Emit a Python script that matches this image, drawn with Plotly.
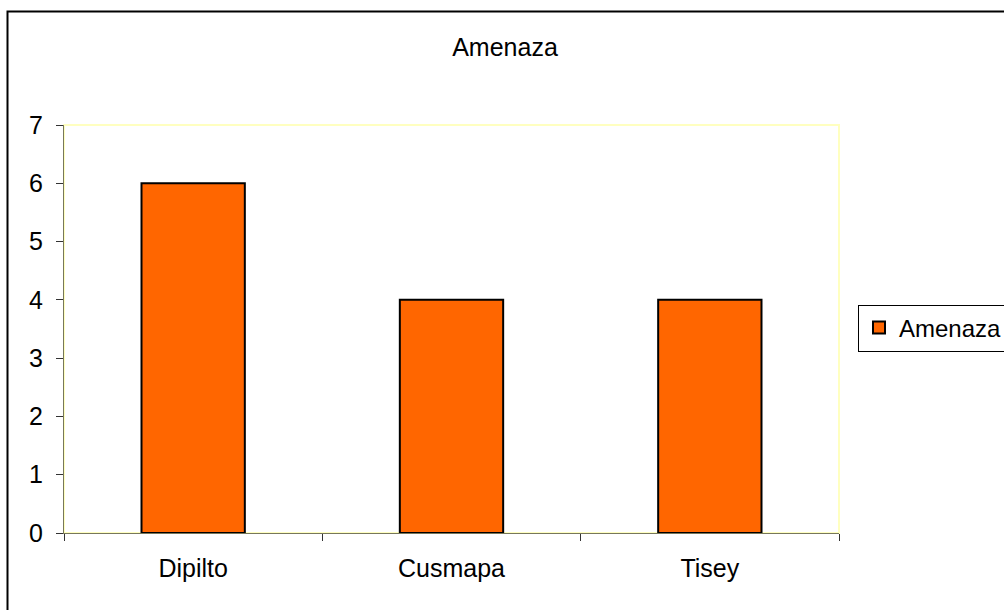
import plotly.graph_objects as go

categories = ["Dipilto", "Cusmapa", "Tisey"]
values = [6, 4, 4]
series_name = "Amenaza"
title_text = "Amenaza"
y_ticks = [0, 1, 2, 3, 4, 5, 6, 7]

W, H = 1004, 610
L, R, T, B = 64, 165, 125, 77
pw = W - L - R
ph = H - T - B

def px_x(x):
    return (x - L) / pw

def px_y(y):
    return (H - B - y) / ph

FONT = "Liberation Sans, Arial, sans-serif"

fig = go.Figure()
fig.add_trace(go.Bar(
    x=categories, y=values, name=series_name,
    marker=dict(color="#FF6600", line=dict(color="#000000", width=2)),
    showlegend=True,
))

fig.update_layout(
    width=W, height=H,
    margin=dict(l=L, r=R, t=T, b=B, autoexpand=False),
    paper_bgcolor="white", plot_bgcolor="white",
    font=dict(family=FONT, size=25, color="black"),
    bargap=0.6,
    title=dict(text=title_text, x=0.503, xref="container", xanchor="center",
               y=1 - 47 / H, yref="container", yanchor="middle",
               font=dict(family=FONT, size=25, color="black")),
    legend=dict(x=px_x(858), y=px_y(328), xanchor="left", yanchor="middle",
                bordercolor="#000000", borderwidth=1, bgcolor="white",
                font=dict(family=FONT, size=24, color="black"),
                itemwidth=30, tracegroupgap=0),
    xaxis=dict(
        type="category", showgrid=False, zeroline=False,
        showline=True, linecolor="#77775a", linewidth=1,
        ticks="outside", ticklen=7, tickcolor="#333333", tickwidth=1,
        tickson="boundaries", ticklabelstandoff=13,
        tickfont=dict(family=FONT, size=25),
    ),
    yaxis=dict(
        range=[0, 7], tickvals=y_ticks, showgrid=False, zeroline=False,
        showline=True, linecolor="#77775a", linewidth=1,
        ticks="outside", ticklen=7, tickcolor="#333333", tickwidth=1,
        ticklabelstandoff=8,
        tickfont=dict(family=FONT, size=25),
    ),
    shapes=[
        dict(type="rect", xref="x domain", yref="y domain", x0=0, x1=1, y0=0, y1=1,
             line=dict(color="#FFFFC0", width=2), layer="below"),
        dict(type="rect", xref="paper", yref="paper",
             x0=px_x(7.5), x1=px_x(1030), y0=px_y(640), y1=px_y(11.5),
             line=dict(color="#000000", width=2), fillcolor="rgba(0,0,0,0)"),
    ],
)

fig.write_html("out.html")
